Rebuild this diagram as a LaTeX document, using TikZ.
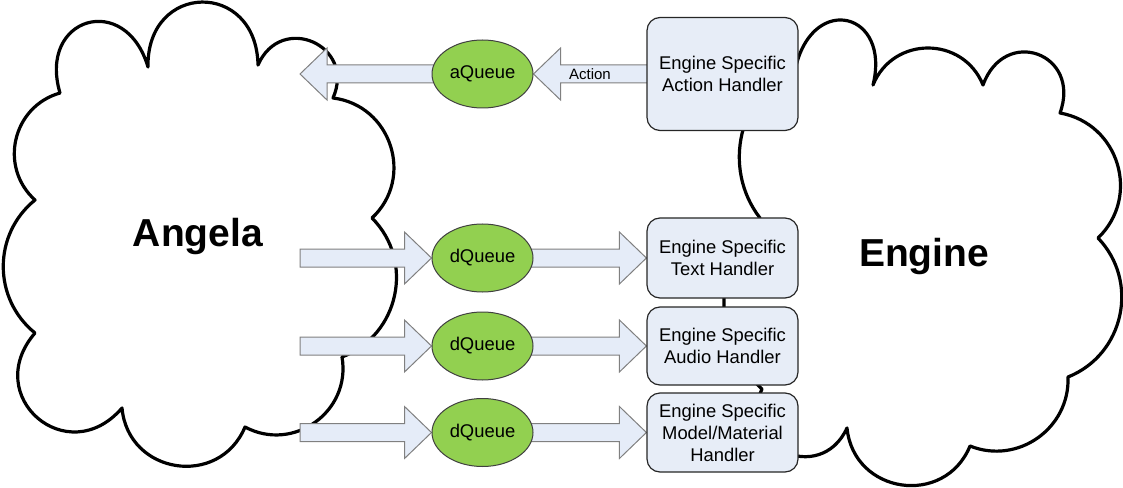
\documentclass[tikz,border=0pt]{standalone}
\usepackage{fontspec}
\setmainfont{Liberation Sans}
\usepackage{xcolor}
\usetikzlibrary{shapes.geometric, calc}

\pgfdeclarelayer{background}
\pgfsetlayers{background,main}

\definecolor{handlerblue}{RGB}{231,237,247}
\definecolor{arrowblue}{RGB}{229,236,248}
\definecolor{queuegreen}{RGB}{146,208,80}

% block arrow from #1 (tail) to #2 (tip)
\newcommand{\blockarrow}[2]{%
  \draw[blockarr] ($(#1)+(0,9)$) -- ($(#2)!20.25pt!(#1)+(0,9)$) -- ($(#2)!20.25pt!(#1)+(0,26)$)
    -- (#2) -- ($(#2)!20.25pt!(#1)+(0,-26)$) -- ($(#2)!20.25pt!(#1)+(0,-9)$) -- ($(#1)+(0,-9)$) -- cycle;}

\begin{document}
\begin{tikzpicture}[
    x=0.75pt, y=-0.75pt,
    cloudline/.style={draw=black, line width=2.4pt, line join=round},
    lobe/.style 2 args={bend left=#1, looseness=#2},
    handler/.style={draw=black!85, line width=0.9pt, fill=handlerblue, rounded corners=9.75pt, minimum width=113.25pt, align=center, inner sep=2pt, font=\fontsize{13.8}{16.5}\selectfont},
    queue/.style={ellipse, draw=black!75, line width=0.75pt, fill=queuegreen, minimum width=75.75pt, minimum height=51pt, inner sep=0pt, font=\fontsize{13.8}{16.5}\selectfont},
    blockarr/.style={draw=black!50, line width=0.75pt, fill=arrowblue, line join=miter},
    title/.style={font=\fontsize{29.25}{35}\selectfont\bfseries, anchor=base},
]
\useasboundingbox (0,0) rectangle (1123,488);

% Handlers
\node[handler, minimum height=84.75pt] (act) at (722.5,74) {Engine Specific\\Action Handler};
\node[handler, minimum height=60pt] (txt) at (722.5,258) {Engine Specific\\Text Handler};
\node[handler, minimum height=58.5pt] (aud) at (722.5,346) {Engine Specific\\Audio Handler};
\node[handler, minimum height=59.25pt] (mdl) at (722.5,432.5) {Engine Specific\\Model/Material\\Handler};

% Queues
\node[queue] (aq) at (482.5,74) {aQueue};
\node[queue] (dq1) at (482.5,258) {dQueue};
\node[queue] (dq2) at (482.5,346) {dQueue};
\node[queue] (dq3) at (482.5,432.5) {dQueue};

% Titles
\node[title] (angela) at (198,247) {Angela};
\node[title] (engine) at (924,266) {Engine};

% Arrow ends on the Angela side
\coordinate (atip) at (300,74);
\coordinate (d1tail) at (300,258);
\coordinate (d2tail) at (300,346);
\coordinate (d3tail) at (300,432.5);

\begin{pgfonlayer}{background}
% Angela cloud
\draw[cloudline] (60,93)
  to[lobe={90}{2.21}] (148,67)
  to[lobe={90}{1.98}] (258,65)
  to[lobe={90}{1.8}] (333,98)
  to[lobe={65}{1.19}] (372,218)
  to[lobe={57}{1.1}] (342,357)
  to[lobe={64}{1.18}] (245,427)
  to[lobe={76}{1.37}] (122,408)
  to[lobe={90}{1.86}] (35,333)
  to[lobe={51}{1.05}] (35,200)
  to[lobe={61}{1.15}] (60,93) -- cycle;

% Engine cloud
\draw[cloudline] (796,66)
  to[lobe={90}{2.42}] (873,85)
  to[lobe={68}{1.24}] (983,85)
  to[lobe={90}{1.98}] (1060,113)
  to[lobe={63}{1.17}] (1098,238)
  to[lobe={56}{1.09}] (1068,377)
  to[lobe={57}{1.1}] (970,446)
  to[lobe={76}{1.37}] (847,428)
  to[lobe={90}{1.75}] (762,389)
  to[lobe={47}{1.01}] (760,218)
  to[lobe={51}{1.04}] (796,66) -- cycle;

% Block arrows
\blockarrow{act}{aq.east}
\blockarrow{aq}{atip}
\blockarrow{d1tail}{dq1.west}
\blockarrow{dq1}{txt.west}
\blockarrow{d2tail}{dq2.west}
\blockarrow{dq2}{aud.west}
\blockarrow{d3tail}{dq3.west}
\blockarrow{dq3}{mdl.west}
\end{pgfonlayer}

\node[font=\fontsize{11.25}{13}\selectfont] (actlbl) at ($(aq.east)!0.5!(act.west)$) {Action};

\end{tikzpicture}
\end{document}
